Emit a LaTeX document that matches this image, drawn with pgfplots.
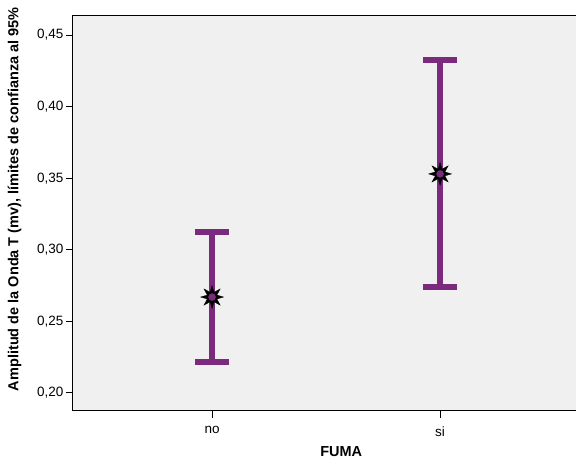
\documentclass[border=0pt]{standalone}
\usepackage{pgfplots}
\pgfplotsset{compat=1.18}
\usepackage{fontspec}
\setmainfont{Liberation Sans}
\definecolor{spssbg}{HTML}{F0F0F0}
\definecolor{spsspurple}{HTML}{7B2A7E}
\pgfdeclareplotmark{star8}{%
  \pgfpathmoveto{\pgfpointpolar{90}{\pgfplotmarksize}}%
  \foreach \k in {1,...,15}{%
    \pgfmathsetmacro{\ang}{90+\k*22.5}%
    \ifodd\k
      \pgfpathlineto{\pgfpointpolar{\ang}{0.45\pgfplotmarksize}}%
    \else
      \pgfpathlineto{\pgfpointpolar{\ang}{\pgfplotmarksize}}%
    \fi
  }%
  \pgfpathclose
  \pgfusepathqfillstroke
}
\begin{document}
\begin{tikzpicture}[x=1pt,y=1pt]
\path[use as bounding box] (-73,-51) rectangle (503,411);
\begin{axis}[
  at={(0,0)}, anchor=south west,
  scale only axis, width=508pt, height=395pt,
  xmin=-0.61, xmax=1.618,
  ymin=0.1874, ymax=0.4633,
  axis background/.style={fill=spssbg},
  axis line style={black, line width=1pt},
  xtick={0,1}, xticklabels={no,si},
  ytick={0.20,0.25,0.30,0.35,0.40,0.45},
  tick align=outside, tick pos=left,
  major tick length=7pt,
  tick style={black, line width=1pt},
  /pgf/number format/assume math mode=true,
  /pgf/number format/use comma,
  /pgf/number format/fixed,
  /pgf/number format/fixed zerofill,
  /pgf/number format/precision=2,
  ticklabel style={font=\fontsize{13.5}{15}\selectfont},
  yticklabel style={xshift=1pt},
  xticklabel style={yshift=-5pt},
  xlabel={\textbf{FUMA}},
  ylabel={\textbf{Amplitud de la Onda T (mv), límites de confianza al 95\%}},
  every axis x label/.style={at={(rel axis cs:0.528,0)}, anchor=center, yshift=-41pt, font=\fontsize{14.5}{16}\selectfont},
  every axis y label/.style={at={(axis description cs:-0.115,0.536)}, anchor=center, rotate=90, font=\fontsize{14.5}{16}\selectfont},
  clip=false,
]
% vertical bars
\addplot[spsspurple, line width=6pt, mark=none] coordinates {(0,0.2216) (0,0.3124)};
\addplot[spsspurple, line width=6pt, mark=none] coordinates {(1,0.2740) (1,0.4325)};
% caps
\addplot[spsspurple, line width=6.5pt, mark=none] coordinates {(-0.075,0.3124) (0.075,0.3124)};
\addplot[spsspurple, line width=6.5pt, mark=none] coordinates {(-0.075,0.2216) (0.075,0.2216)};
\addplot[spsspurple, line width=6.5pt, mark=none] coordinates {(0.925,0.4325) (1.075,0.4325)};
\addplot[spsspurple, line width=6.5pt, mark=none] coordinates {(0.925,0.2740) (1.075,0.2740)};
% means
\addplot[only marks, mark=star8, mark size=11.5pt, mark options={fill=black, draw=black, line width=0.3pt}] coordinates {(0,0.267) (1,0.353)};
\addplot[only marks, mark=*, mark size=3.5pt, mark options={fill=spsspurple, draw=spsspurple}] coordinates {(0,0.267) (1,0.353)};
\end{axis}
\end{tikzpicture}
\end{document}
